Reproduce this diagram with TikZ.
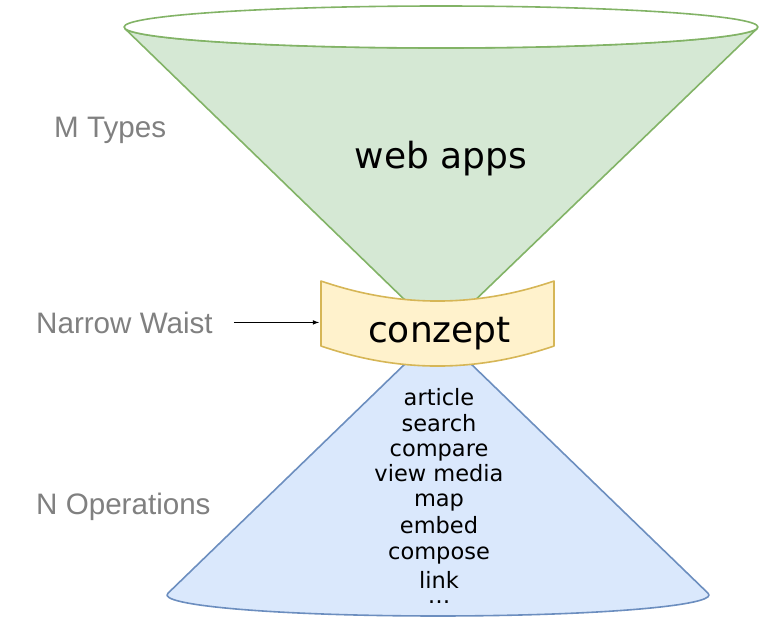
\documentclass[tikz,border=0pt]{standalone}
\usepackage{fontspec}
\setmainfont{DejaVu Sans}
\newfontfamily\sidefont{Liberation Sans}
\definecolor{typesfill}{HTML}{D5E8D4}
\definecolor{typesline}{HTML}{82B366}
\definecolor{waistfill}{HTML}{FFF2CC}
\definecolor{waistline}{HTML}{D6B656}
\definecolor{opsfill}{HTML}{DAE8FC}
\definecolor{opsline}{HTML}{6C8EBF}
\definecolor{sidegray}{HTML}{808080}

\begin{document}
\begin{tikzpicture}[x=1pt,y=-1pt,
	sidelabel/.style={font={\sidefont\fontsize{29.6}{35}\selectfont},text=sidegray,inner sep=0pt,anchor=base west},
	bigtext/.style={font={\fontsize{36}{43}\selectfont},inner sep=0pt,anchor=base},
	optext/.style={font={\fontsize{22.5}{27}\selectfont},inner sep=0pt,anchor=base},
	cone/.style={line width=1.6pt,line join=round}]
	\useasboundingbox (0,0) rectangle (760,622);

	% top cone: M types
	\filldraw[cone,fill=typesfill,draw=typesline] (757.3,28.4) -- (440,334) -- (124.7,28.4)
		arc[start angle=176.1,end angle=3.9,x radius=317,y radius=21] -- cycle;
	\draw[cone,fill=white,draw=typesline] (441,27) ellipse[x radius=317,y radius=21];

	% bottom cone: N operations
	\filldraw[cone,fill=opsfill,draw=opsline] (438,332) -- (167.9,593.3)
		arc[start angle=184.6,end angle=-4.6,x radius=271,y radius=21] -- cycle;

	% narrow waist
	\filldraw[cone,fill=waistfill,draw=waistline] (321,281) .. controls (398.7,307.7) and (476.3,307.7) .. (554,281)
		-- (554,346) .. controls (476.3,372.7) and (398.7,372.7) .. (321,346) -- cycle;
	\coordinate (waistleft) at (321,313.5);

	\node[bigtext] (webapps) at (441,168) {web apps};
	\node[bigtext] (conzept) at (439.5,342) {conzept};

	\foreach \op/\yb [count=\i] in {article/405,search/431,compare/456.5,view media/481.5,map/506.5,embed/533,compose/559,link/588,\ldots/603.5} {
		\node[optext] (op\i) at (439,\yb) {\op};
	}

	\node[sidelabel] (typeslbl) at (54,137) {M Types};
	\node[sidelabel] (waistlbl) at (36,333) {Narrow Waist};
	\node[sidelabel] (opslbl) at (36,514) {N Operations};

	\draw[-latex,line width=1.1pt,shorten <=21pt,shorten >=2pt] (waistlbl.east) -- (waistlbl.east -| waistleft);
\end{tikzpicture}
\end{document}
